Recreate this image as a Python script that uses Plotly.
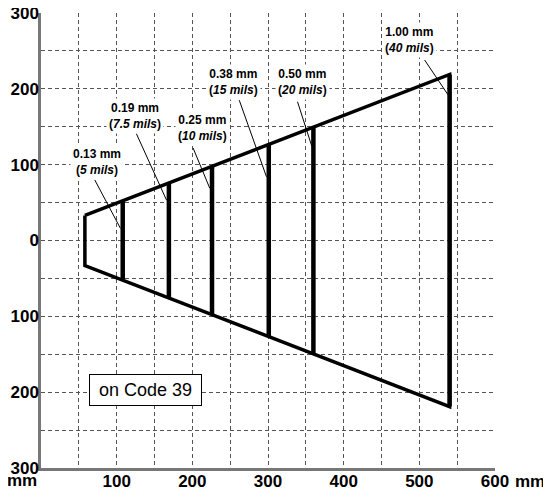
import plotly.graph_objects as go

# Scan range outline (mm): near/far window distance and half-width
near_x, near_half = 58, 33
far_x, far_half = 540, 219

# Reading depth per bar code resolution
bar_x = [108, 169, 226, 301, 360, 540]
bar_half = [51, 75, 97, 126, 150, 219]

# Labels
label_mm = ["0.13", "0.19", "0.25", "0.38", "0.50", "1.00"]
label_mils = ["5", "7.5", "10", "15", "20", "40"]
label_x = [74, 124, 213, 255, 345, 487]
label_y = [103, 164, 148, 209, 209, 264]
leader_x0 = [71, 126, 201, 262, 339, 507]
leader_y0 = [80, 141, 122, 185, 183, 238]
leader_x1 = [105, 166, 223, 298, 358, 538]
leader_y1 = [16, 53, 69, 84, 124, 192]

x_ticks = [100, 200, 300, 400, 500, 600]
y_ticks = [-300, -200, -100, 0, 100, 200, 300]
y_ticktext = [str(abs(v)) for v in y_ticks]

FONT = "Liberation Sans, Arial, sans-serif"
GRID = "#555555"

fig = go.Figure()

# outline of the reading zone
fig.add_trace(go.Scatter(
    x=[near_x, far_x, far_x, near_x, near_x],
    y=[near_half, far_half, -far_half, -near_half, near_half],
    mode="lines",
    line=dict(color="black", width=3.5),
    hoverinfo="skip",
))

# bars at each resolution
bx, by = [], []
for x, h in zip(bar_x, bar_half):
    bx += [x, x, None]
    by += [h, -h, None]
fig.add_trace(go.Scatter(
    x=bx, y=by, mode="lines",
    line=dict(color="black", width=4.5),
    hoverinfo="skip",
))

# leader lines
lx, ly = [], []
for x0, y0, x1, y1 in zip(leader_x0, leader_y0, leader_x1, leader_y1):
    lx += [x0, x1, None]
    ly += [y0, y1, None]
fig.add_trace(go.Scatter(
    x=lx, y=ly, mode="lines",
    line=dict(color="black", width=1),
    hoverinfo="skip",
))

for mm, mils, x, y in zip(label_mm, label_mils, label_x, label_y):
    fig.add_annotation(
        x=x, y=y, xref="x", yref="y",
        text=f"<b>{mm} mm<br>(<i>{mils} mils</i>)</b>",
        showarrow=False,
        font=dict(family=FONT, size=12, color="black"),
        bgcolor="white", borderpad=2,
    )

fig.add_annotation(
    x=138, y=-197, xref="x", yref="y",
    text="on Code 39", showarrow=False,
    font=dict(family=FONT, size=18, color="black"),
    bgcolor="white", bordercolor="black", borderwidth=1,
    width=111, height=30, borderpad=0,
)

# unit labels
fig.add_annotation(
    x=-0.042, y=-0.027, xref="paper", yref="paper",
    text="mm", showarrow=False, xanchor="center", yanchor="middle",
    font=dict(family=FONT, size=17, color="black", weight="bold"),
)
fig.add_annotation(
    x=1.077, y=-0.029, xref="paper", yref="paper",
    text="mm", showarrow=False, xanchor="center", yanchor="middle",
    font=dict(family=FONT, size=17, color="black", weight="bold"),
)

# page body has an 8px margin, so the figure is 8px smaller than the window
fig.update_layout(
    width=543, height=490,
    margin=dict(l=33, r=56, t=5, b=30, autoexpand=False),
    plot_bgcolor="white", paper_bgcolor="white",
    showlegend=False,
    xaxis=dict(
        range=[0, 600], tickvals=x_ticks, ticktext=[str(v) for v in x_ticks],
        showgrid=True, gridcolor=GRID, gridwidth=1, griddash="4px,3px",
        minor=dict(dtick=50, tick0=0, showgrid=True, gridcolor=GRID,
                   griddash="4px,3px", gridwidth=1),
        showline=True, linecolor="#777777", linewidth=2.5,
        zeroline=False, ticks="", automargin=False, ticklabelstandoff=-4,
        ticklabeloverflow="allow",
        tickfont=dict(family=FONT, size=17, color="black", weight="bold"),
    ),
    yaxis=dict(
        range=[-300, 300], tickvals=y_ticks, ticktext=y_ticktext,
        showgrid=True, gridcolor=GRID, gridwidth=1, griddash="4px,3px",
        minor=dict(dtick=50, tick0=0, showgrid=True, gridcolor=GRID,
                   griddash="4px,3px", gridwidth=1),
        showline=True, linecolor="#777777", linewidth=2.5,
        zeroline=False, ticks="", automargin=False, ticklabelstandoff=-4,
        ticklabeloverflow="allow",
        tickfont=dict(family=FONT, size=17, color="black", weight="bold"),
    ),
)

fig.write_html("out.html")
